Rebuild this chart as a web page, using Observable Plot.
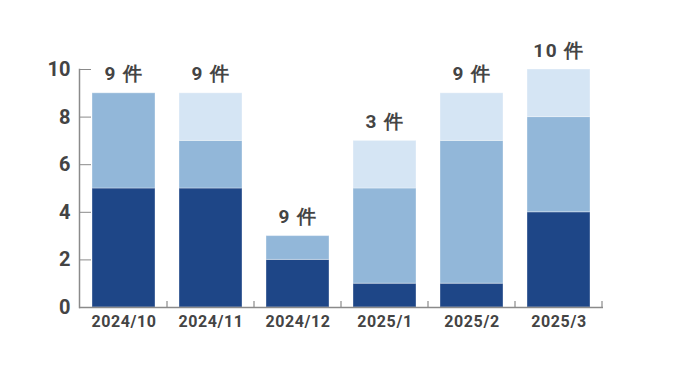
<!DOCTYPE html>
<html>
<head>
<meta charset="utf-8">
<script src="https://cdn.jsdelivr.net/npm/d3@7"></script>
<script src="https://cdn.jsdelivr.net/npm/@observablehq/plot@0.6"></script>
<style>
  html, body { margin: 0; padding: 0; background: #fff; }
  #chart { width: 687px; height: 383px; }
  .xlab text { letter-spacing: 0.6px; }
  .toplab text { letter-spacing: 1.5px; }
</style>
</head>
<body>
<div id="chart"></div>
<script>
const months = ["2024/10", "2024/11", "2024/12", "2025/1", "2025/2", "2025/3"];
const seriesNames = ["A", "B", "C"];
const darkVals = [5, 5, 2, 1, 1, 4];
const midVals = [4, 2, 1, 4, 6, 4];
const lightVals = [0, 2, 0, 2, 2, 2];
const topLabels = ["9 件", "9 件", "9 件", "3 件", "9 件", "10 件"];
const yTicks = [0, 2, 4, 6, 8, 10];
const colors = ["#1e4687", "#92b7d9", "#d5e5f4"];

const seriesVals = [darkVals, midVals, lightVals];
const rows = [];
seriesNames.forEach((s, si) => {
  months.forEach((m, i) => rows.push({month: m, series: s, value: seriesVals[si][i]}));
});
const totals = months.map((m, i) => darkVals[i] + midVals[i] + lightVals[i]);
const labelRows = months.map((m, i) => ({month: m, total: totals[i], label: topLabels[i]}));

const axisColor = "#8a8a8a";
const textColor = "#444444";
const font = "Roboto, 'DejaVu Sans', sans-serif";

const plot = Plot.plot({
  width: 687,
  height: 383,
  marginLeft: 79,
  marginRight: 84,
  marginTop: 69,
  marginBottom: 76,
  style: {fontFamily: font, background: "#fff"},
  x: {domain: months, paddingInner: 0.28, paddingOuter: 0.14, label: null},
  y: {domain: [0, 10], label: null},
  color: {domain: seriesNames, range: colors},
  marks: [
    Plot.barY(rows, Plot.stackY({x: "month", y: "value", fill: "series", order: seriesNames, stroke: "#ffffff", strokeOpacity: 0.35, strokeWidth: 1})),
    Plot.ruleY([0], {stroke: axisColor, strokeWidth: 1.5}),
    Plot.frame({anchor: "left", stroke: axisColor, strokeWidth: 1.5}),
    Plot.axisY({ticks: yTicks, tickSize: -12, tickPadding: 21, stroke: axisColor, fill: textColor, fontSize: 20, fontWeight: 700, label: null}),
    Plot.axisX({tickSize: 0, tickPadding: 8, fill: textColor, fontSize: 16, fontWeight: 700, label: null, className: "xlab"}),
    Plot.text(labelRows, {x: "month", y: "total", text: "label", dy: -19, fill: textColor, fontSize: 19, fontWeight: 700, className: "toplab"})
  ]
});

// boundary ticks on x axis, computed from Plot's own x scale
const xs = plot.scale("x");
const ys = plot.scale("y");
const step = xs.step;
const y0 = ys.apply(0);
const svg = d3.select(plot.tagName === "svg" ? plot : plot.querySelector("svg"));
const bounds = months.map(m => xs.apply(m) + xs.bandwidth + (step - xs.bandwidth) / 2);
svg.append("g").selectAll("line").data(bounds).join("line")
  .attr("x1", d => d).attr("x2", d => d)
  .attr("y1", y0).attr("y2", y0 - 6)
  .attr("stroke", axisColor).attr("stroke-width", 1.2);

document.getElementById("chart").appendChild(plot);
</script>
</body>
</html>
